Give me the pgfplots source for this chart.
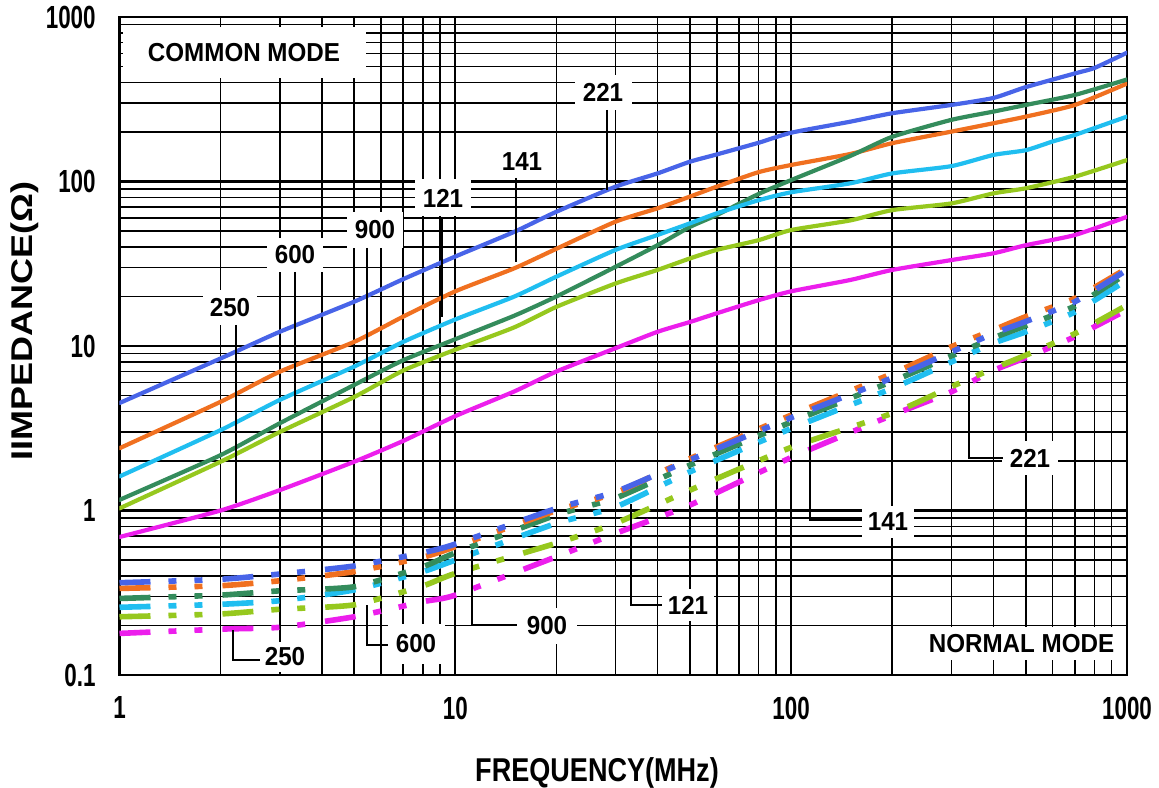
\documentclass[border=0pt]{standalone}
\usepackage{fontspec}
\setmainfont{Liberation Sans}[FakeStretch=0.93]
\newfontfamily\tickfont{Liberation Sans}[FakeStretch=0.7]
\newfontfamily\xlabfont{Liberation Sans}[FakeStretch=0.82]
\newfontfamily\ylabfont{Liberation Sans}[FakeStretch=1.2]
\usepackage{pgfplots}
\pgfplotsset{compat=1.18}

\definecolor{cblue}{RGB}{72,100,232}
\definecolor{corange}{RGB}{240,112,32}
\definecolor{ccyan}{RGB}{32,190,240}
\definecolor{cgreen}{RGB}{52,140,92}
\definecolor{cyg}{RGB}{150,200,30}
\definecolor{cmag}{RGB}{236,30,236}

\tikzset{
  cmline/.style={line width=2.1pt, line cap=round, line join=round, smooth, tension=0.35},
  nmline/.style={line width=2.8pt, line cap=butt, smooth, tension=0.35,
    dash pattern=on 15.5pt off 9pt on 4pt off 9pt on 4pt off 10pt},
  lab/.style={fill=white, inner sep=0pt, font=\fontsize{13}{15}\selectfont\bfseries},
  lead/.style={black, line width=0.8pt},
}

\begin{document}
\begin{tikzpicture}
\begin{axis}[
  name=ax, at={(0pt,0pt)}, anchor=south west,
  scale only axis, width=503.75pt, height=329pt,
  xmode=log, ymode=log,
  xmin=1, xmax=1000, ymin=0.1, ymax=1000,
  xtick={1,10,100,1000}, xticklabels={1,10,100,1000},
  ytick={0.1,1,10,100,1000}, yticklabels={0.1,1,10,100,1000},
  minor xtick={2,3,4,5,6,7,8,9,20,30,40,50,60,70,80,90,200,300,400,500,600,700,800,900},
  minor ytick={0.2,0.3,0.4,0.5,0.6,0.7,0.8,0.9,2,3,4,5,6,7,8,9,20,30,40,50,60,70,80,90,200,300,400,500,600,700,800,900},
  grid=both,
  major grid style={black, line width=1.1pt},
  minor grid style={black, line width=0.85pt},
  tick style={draw=none},
  axis line style={black, line width=1.2pt},
  xticklabel style={font=\tickfont\fontsize{16}{18}\selectfont\bfseries, yshift=-7.4pt},
  yticklabel style={font=\tickfont\fontsize{16}{18}\selectfont\bfseries, xshift=-8.4pt},
]

% common mode (solid)
\addplot[cmline, cblue] coordinates {
  (1,4.5)(2,8.4)(3,12.2)(5,18.6)(7,25.5)(10,35)(15,49.5)(20,65.5)(30,93)(40,112)
  (50,132)(60,146)(80,172)(100,198)(150,231)(200,260)(300,292)(400,322)(500,375)
  (700,454)(800,490)(1000,607)};
\addplot[cmline, corange] coordinates {
  (1,2.39)(2,4.58)(3,6.98)(5,10.6)(7,15.1)(10,21.5)(15,29.7)(20,39)(30,57)(40,68.7)
  (50,81)(60,93)(80,114)(100,126)(150,147)(200,171)(300,201)(400,226)(500,248)
  (700,292)(1000,394)};
\addplot[cmline, cgreen] coordinates {
  (1,1.16)(2,2.17)(3,3.39)(5,5.8)(7,8.2)(10,11)(15,15.3)(20,20)(30,30.3)(40,41)
  (50,53)(60,62.5)(80,84)(100,102)(150,143)(200,187)(300,237)(400,266)(500,292)
  (700,336)(1000,417)};
\addplot[cmline, ccyan] coordinates {
  (1,1.61)(2,3.08)(3,4.7)(5,7.5)(7,10.6)(10,14.5)(15,20)(20,26.4)(30,38.4)(40,47.3)
  (50,55.7)(60,64)(80,77)(100,86)(150,97.5)(200,112)(300,124)(400,145)(500,155)
  (600,175)(700,192)(1000,248)};
\addplot[cmline, cyg] coordinates {
  (1,1.03)(2,1.98)(3,3.0)(5,4.9)(7,7.1)(10,9.5)(15,13)(20,17.3)(30,24)(40,29)
  (50,34.1)(60,38.4)(80,44)(100,50.7)(150,58)(200,67)(300,73.6)(400,84.7)(500,91)
  (700,107)(1000,135)};
\addplot[cmline, cmag] coordinates {
  (1,0.69)(2,1.0)(3,1.33)(5,1.98)(7,2.65)(10,3.75)(15,5.3)(20,7.0)(30,9.7)(40,12.2)
  (50,14)(60,15.8)(80,19)(100,21.5)(150,25.2)(200,29)(300,33.3)(400,36.6)(500,41)
  (700,47.3)(1000,61)};

% normal mode (dashed)
\addplot[nmline, cmag] coordinates {
  (1,0.179)(2,0.19)(3,0.195)(5,0.226)(8,0.279)(10,0.306)(20,0.524)(30,0.726)
  (50,1.08)(100,2.1)(200,3.8)(300,5.27)(400,7.1)(500,8.5)(700,11.4)(1000,16.6)};
\addplot[nmline, cyg] coordinates {
  (1,0.226)(2,0.235)(3,0.251)(5,0.267)(8,0.348)(10,0.415)(20,0.633)(30,0.836)
  (50,1.33)(100,2.42)(200,3.9)(300,5.66)(400,7.3)(500,8.8)(700,11.9)(1000,17.7)};
\addplot[nmline, ccyan] coordinates {
  (1,0.258)(2,0.269)(3,0.283)(5,0.329)(8,0.425)(10,0.5)(20,0.836)(30,1.05)
  (50,1.72)(100,3.15)(200,5.53)(300,8.0)(400,10.4)(500,12.2)(700,16.1)(1000,25.2)};
\addplot[nmline, cgreen] coordinates {
  (1,0.292)(2,0.306)(3,0.325)(5,0.344)(8,0.455)(10,0.553)(20,0.94)(30,1.19)
  (50,1.89)(100,3.45)(200,6.1)(300,8.7)(400,11.2)(500,13.3)(700,17.5)(1000,27.7)};
\addplot[nmline, corange] coordinates {
  (1,0.336)(2,0.349)(3,0.374)(5,0.425)(8,0.52)(10,0.603)(20,1.0)(30,1.28)
  (50,2.07)(100,3.8)(200,6.8)(300,9.9)(400,12.5)(500,15.1)(700,19.5)(1000,29.7)};
\addplot[nmline, cblue] coordinates {
  (1,0.364)(2,0.382)(3,0.411)(5,0.46)(8,0.554)(10,0.625)(20,1.03)(30,1.3)
  (50,2.03)(100,3.67)(200,6.4)(300,9.2)(400,11.9)(500,14.1)(700,18.6)(1000,29)};
\end{axis}

% annotations, in pixel units of the reference (origin top left)
\begin{scope}[shift={(ax.south west)}, x=0.5pt, y=-0.5pt, shift={(-119.5,-675)}]
  % common mode labels
  \node[lab, minimum width=121.5pt, minimum height=25.5pt] at (244,52.5) {COMMON MODE};
  \node[lab, minimum width=27pt, minimum height=17.5pt] at (230,307.5) {250};
  \draw[lead] (236,325) -- (236,503);
  \node[lab, minimum width=28pt, minimum height=17pt] at (295,255) {600};
  \draw[lead] (295,272) -- (295,413);
  \node[lab, minimum width=28pt, minimum height=18pt] at (375,230) {900};
  \draw[lead] (367,248) -- (367,382);
  \node[lab, minimum width=28pt, minimum height=18.5pt] at (443,198) {121};
  \draw[lead] (442,217) -- (442,317);
  \node[lab, minimum width=28pt, minimum height=17pt] at (522,162) {141};
  \draw[lead] (516,178) -- (516,262);
  \node[lab, minimum width=28.5pt, minimum height=17.5pt] at (603,92.5) {221};
  \draw[lead] (607,110) -- (607,190);
  % normal mode labels
  \node[lab, minimum width=103.5pt, minimum height=16.5pt] at (1021.5,643.5) {NORMAL MODE};
  \node[lab, minimum width=24pt, minimum height=15pt] at (285,657) {250};
  \draw[lead] (233,630) -- (233,660) -- (260,660);
  \node[lab, minimum width=28.5pt, minimum height=20pt] at (416,644) {600};
  \draw[lead] (367,605) -- (367,645) -- (388,645);
  \node[lab, minimum width=30pt, minimum height=18pt] at (547,626) {900};
  \draw[lead] (472,550) -- (472,625) -- (517,625);
  \node[lab, minimum width=26pt, minimum height=16pt] at (688,605) {121};
  \draw[lead] (631,504) -- (631,605) -- (662,605);
  \node[lab, minimum width=26pt, minimum height=16pt] at (888,522) {141};
  \draw[lead] (810,425) -- (810,520) -- (862,520);
  \node[lab, minimum width=28pt, minimum height=17pt] at (1030,458) {221};
  \draw[lead] (969,352) -- (969,458) -- (1003,458);
  % axis titles
  \node[font=\xlabfont\fontsize{16.5}{18}\selectfont\bfseries] at (597,773) {FREQUENCY(MHz)};
  \node[font=\ylabfont\fontsize{15}{17}\selectfont\bfseries, rotate=90] at (25,321) {IIMPEDANCE(Ω)};
  \pgfresetboundingbox
  \path[use as bounding box] (0,0) rectangle (1159,787);
\end{scope}
\end{tikzpicture}
\end{document}
